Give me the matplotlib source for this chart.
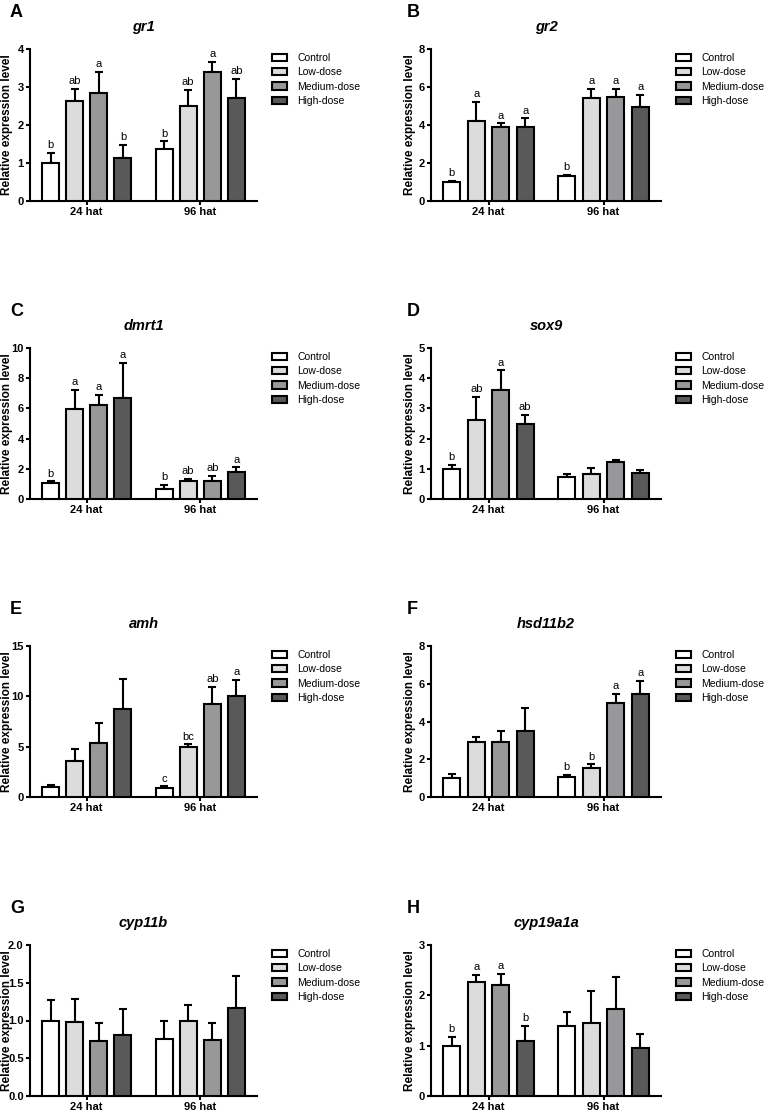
import matplotlib
matplotlib.use("Agg")
import matplotlib.pyplot as plt
from matplotlib.patches import Patch
import numpy as np

plt.rcParams['font.family'] = ['Liberation Sans', 'DejaVu Sans']

# ---------------- data ----------------
groups = ['24 hat', '96 hat']
treatments = ['Control', 'Low-dose', 'Medium-dose', 'High-dose']
bar_colors = ['#ffffff', '#dcdcdd', '#98989b', '#59595c']

genes = ['gr1', 'gr2', 'dmrt1', 'sox9', 'amh', 'hsd11b2', 'cyp11b', 'cyp19a1a']
panel_letters = ['A', 'B', 'C', 'D', 'E', 'F', 'G', 'H']

# means per group: [Control, Low, Medium, High]
gr1_mean = [[1.00, 2.62, 2.85, 1.13], [1.38, 2.50, 3.39, 2.70]]
gr1_sem = [[0.27, 0.33, 0.55, 0.34], [0.19, 0.43, 0.27, 0.51]]
gr1_sig = [['b', 'ab', 'a', 'b'], ['b', 'ab', 'a', 'ab']]

gr2_mean = [[1.00, 4.23, 3.91, 3.88], [1.30, 5.43, 5.48, 4.97]]
gr2_sem = [[0.07, 0.99, 0.18, 0.47], [0.07, 0.46, 0.41, 0.62]]
gr2_sig = [['b', 'a', 'a', 'a'], ['b', 'a', 'a', 'a']]

dmrt1_mean = [[1.07, 5.96, 6.23, 6.67], [0.65, 1.22, 1.22, 1.80]]
dmrt1_sem = [[0.09, 1.28, 0.66, 2.33], [0.26, 0.11, 0.33, 0.29]]
dmrt1_sig = [['b', 'a', 'a', 'a'], ['b', 'ab', 'ab', 'a']]

sox9_mean = [[1.00, 2.63, 3.61, 2.49], [0.73, 0.82, 1.23, 0.85]]
sox9_sem = [[0.14, 0.76, 0.65, 0.29], [0.10, 0.20, 0.07, 0.12]]
sox9_sig = [['b', 'ab', 'a', 'ab'], ['', '', '', '']]

amh_mean = [[1.00, 3.58, 5.40, 8.75], [0.93, 4.98, 9.24, 10.07]]
amh_sem = [[0.19, 1.19, 1.95, 2.95], [0.13, 0.25, 1.68, 1.55]]
amh_sig = [['', '', '', ''], ['c', 'bc', 'ab', 'a']]

hsd11b2_mean = [[1.03, 2.90, 2.94, 3.49], [1.08, 1.55, 4.99, 5.48]]
hsd11b2_sem = [[0.18, 0.30, 0.55, 1.24], [0.09, 0.18, 0.47, 0.66]]
hsd11b2_sig = [['', '', '', ''], ['b', 'b', 'a', 'a']]

cyp11b_mean = [[1.00, 0.98, 0.73, 0.81], [0.75, 0.99, 0.74, 1.17]]
cyp11b_sem = [[0.27, 0.31, 0.24, 0.34], [0.24, 0.21, 0.23, 0.42]]
cyp11b_sig = [['', '', '', ''], ['', '', '', '']]

cyp19a1a_mean = [[1.00, 2.27, 2.21, 1.10], [1.40, 1.46, 1.73, 0.96]]
cyp19a1a_sem = [[0.17, 0.13, 0.21, 0.30], [0.27, 0.63, 0.64, 0.27]]
cyp19a1a_sig = [['b', 'a', 'a', 'b'], ['', '', '', '']]

y_max = [4, 8, 10, 5, 15, 8, 2.0, 3]
y_step = [1, 2, 2, 1, 5, 2, 0.5, 1]

means = [gr1_mean, gr2_mean, dmrt1_mean, sox9_mean, amh_mean, hsd11b2_mean, cyp11b_mean, cyp19a1a_mean]
sems = [gr1_sem, gr2_sem, dmrt1_sem, sox9_sem, amh_sem, hsd11b2_sem, cyp11b_sem, cyp19a1a_sem]
sigs = [gr1_sig, gr2_sig, dmrt1_sig, sox9_sig, amh_sig, hsd11b2_sig, cyp11b_sig, cyp19a1a_sig]

# ---------------- layout ----------------
W, H = 765, 1113
fig = plt.figure(figsize=(W / 100, H / 100), dpi=100)

col_left = [30, 431]
col_right = [257, 661]
row_top = [49, 348, 646, 945]
row_bot = [201, 499, 797, 1096]
label_gap = [17, 15]

spacing = 0.2124
bw = 0.15
offsets = [-1.5 * spacing, -0.5 * spacing, 0.5 * spacing, 1.5 * spacing]
LW = 1.5

for i, gene in enumerate(genes):
    r, c = divmod(i, 2)
    l, rt = col_left[c], col_right[c]
    t, b = row_top[r], row_bot[r]
    ax = fig.add_axes([l / W, 1 - b / H, (rt - l) / W, (b - t) / H])

    m = np.array(means[i])
    s = np.array(sems[i])
    for k in range(4):
        xs = np.arange(len(groups)) + offsets[k]
        ax.bar(xs, m[:, k], width=bw, color=bar_colors[k], edgecolor='black',
               linewidth=LW, zorder=3)
        ax.errorbar(xs, m[:, k], yerr=[np.zeros(len(groups)), s[:, k]], fmt='none',
                    ecolor='black', elinewidth=LW, capsize=3, capthick=LW, zorder=2)
        for g in range(len(groups)):
            lab = sigs[i][g][k]
            if lab:
                ax.annotate(lab, (xs[g], m[g, k] + s[g, k]), xytext=(0, 2),
                            textcoords='offset points', ha='center', va='bottom',
                            fontsize=8)

    ax.set_xlim(-0.5, 1.5)
    ax.set_ylim(0, y_max[i])
    ticks = np.arange(0, y_max[i] + 1e-9, y_step[i])
    ax.set_yticks(ticks)
    if y_step[i] < 1:
        ax.set_yticklabels([f'{v:.1f}' for v in ticks])
    else:
        ax.set_yticklabels([f'{v:g}' for v in ticks])
    ax.set_xticks(range(len(groups)))
    ax.set_xticklabels(groups)
    for sp in ['top', 'right']:
        ax.spines[sp].set_visible(False)
    for sp in ['left', 'bottom']:
        ax.spines[sp].set_linewidth(LW)
    ax.tick_params(axis='both', width=LW, length=3, pad=1.5, labelsize=8)
    for tl in ax.get_xticklabels() + ax.get_yticklabels():
        tl.set_fontweight('bold')
    ax.set_ylabel('Relative expression level', fontsize=8.5, fontweight='bold')
    ax.yaxis.set_label_coords(-label_gap[c] / (rt - l), 0.5)
    ax.set_title(gene, fontsize=10.5, fontweight='bold', fontstyle='italic', pad=13)

    # panel letter
    lx = 10 if c == 0 else 407
    fig.text(lx / W, 1 - (t - 32) / H, panel_letters[i], fontsize=13,
             fontweight='bold', ha='left', va='baseline')

    handles = [Patch(facecolor=bar_colors[k], edgecolor='black', linewidth=LW,
                     label=treatments[k]) for k in range(4)]
    ax.legend(handles=handles, loc='upper left',
              bbox_to_anchor=((rt + 15) / W, 1 - (t + 4) / H),
              bbox_transform=fig.transFigure, frameon=False, fontsize=7.5,
              borderaxespad=0, borderpad=0, handlelength=1.45, handleheight=0.7,
              handletextpad=1.0, labelspacing=0.42)

fig.savefig('out.png', dpi=100)
